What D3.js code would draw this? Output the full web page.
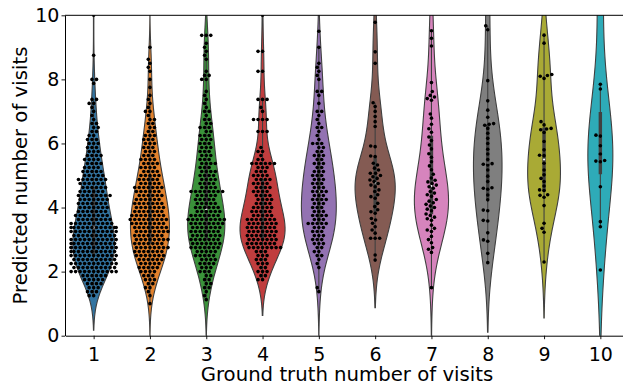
<!DOCTYPE html>
<html>
<head>
<meta charset="utf-8">
<script src="https://cdn.jsdelivr.net/npm/d3@7"></script>
<style>
  body { margin: 0; background: #fff; }
  svg { display: block; font-family: "DejaVu Sans", sans-serif; }
</style>
</head>
<body>
<svg id="chart" width="623" height="383"></svg>
<script>
const categories = [1, 2, 3, 4, 5, 6, 7, 8, 9, 10];
const colors = ['#3274a1', '#e1812c', '#3a923a', '#c03d3e', '#9372b2',
                '#845b53', '#d684bd', '#7f7f7f', '#a9aa35', '#2eabb8'];
const yTicks = [0, 2, 4, 6, 8, 10];

// groups 1-5 are dense: predictions come in steps of 1/8,
// so they are kept as counts per step, starting at the first value
const step = 0.125;
const from1 = 1.25;
const counts1 = [2, 3, 3, 4, 5, 6,
  11, 10, 11, 10, 11, 11, 12, 11,
  11, 10, 11, 12, 10, 8, 8, 7,
  7, 7, 7, 8, 6, 6, 6, 7,
  5, 5, 4, 4, 4, 4, 3, 3,
  3, 3, 2, 2, 2, 2, 1, 1,
  1, 1, 2, 2, 0, 0, 0, 1,
  2, 0, 0, 0, 0, 0, 1, 0,
  0, 0, 0, 0, 0, 0, 0, 0,
  1];
const from2 = 1.0;
const counts2 = [1, 0, 1, 1, 2, 2, 3, 3,
  4, 5, 5, 6, 7, 7, 8, 7,
  8, 7, 8, 8, 8, 9, 8, 7,
  7, 7, 6, 6, 6, 7, 5, 5,
  5, 4, 4, 4, 4, 3, 3, 3,
  3, 3, 3, 2, 2, 2, 2, 1,
  2, 1, 1, 1, 1, 0, 1, 0,
  1, 0, 1, 1, 1, 1, 0, 0,
  1];
const from3 = 1.125;
const counts3 = [1, 1, 1, 2, 2, 2, 2,
  3, 3, 4, 4, 5, 5, 7, 7,
  7, 7, 7, 7, 8, 9, 7, 6,
  6, 5, 5, 5, 8, 4, 4, 4,
  4, 4, 3, 4, 3, 3, 3, 3,
  3, 3, 3, 2, 3, 2, 2, 1,
  2, 1, 1, 1, 1, 1, 0, 0,
  2, 2, 1, 0, 0, 1, 1, 1,
  1, 1, 0, 3];
const from4 = 1.75;
const counts4 = [2, 2,
  3, 2, 3, 3, 3, 3, 8, 7,
  7, 7, 7, 7, 7, 7, 5, 5,
  5, 4, 4, 4, 4, 4, 4, 4,
  4, 3, 3, 6, 2, 1, 2, 1,
  0, 0, 0, 3, 0, 0, 4, 0,
  1, 1, 0, 3, 0, 0, 0, 0,
  0, 0, 2, 0, 0, 0, 0, 2,
  0, 0, 0, 0, 0, 0, 0, 0,
  1];
const from5 = 1.375;
const counts5 = [1, 1, 0, 0, 0,
  0, 1, 1, 1, 2, 2, 2, 3,
  3, 3, 3, 3, 5, 3, 4, 3,
  3, 3, 4, 3, 4, 3, 3, 3,
  3, 3, 2, 3, 2, 3, 2, 2,
  3, 1, 1, 1, 2, 1, 1, 1,
  2, 0, 1, 0, 1, 2, 0, 0,
  1, 1, 1, 1, 1, 0, 0, 0,
  1, 0, 0, 0, 1];

// groups 6-10 are sparse: single predictions
const visits6 = [9.78, 8.86, 8.5, 7.27, 7.15, 7.0, 6.84, 6.68, 6.53, 5.92, 5.9, 5.61, 5.59,
  5.38, 5.33, 5.23, 5.17, 5.07, 5.07, 5.0, 4.96, 4.91, 4.86, 4.81, 4.75, 4.7, 4.65,
  4.55, 4.5, 4.4, 4.34, 4.29, 4.13, 4.03, 3.93, 3.87, 3.82, 3.66, 3.61,
  3.51, 3.4, 3.3, 3.2, 3.04, 3.04, 3.04, 2.52, 2.36];
const visits7 = [9.52, 9.28, 9.04, 7.9, 7.62, 7.5, 7.45, 7.4, 7.35, 6.92, 6.79,
  6.6, 6.46, 6.35, 6.2, 6.09, 5.95, 5.83, 5.68, 5.57, 5.43, 5.3, 5.18, 5.04,
  4.92, 4.85, 4.8, 4.75, 4.7, 4.65, 4.6, 4.5, 4.45, 4.4, 4.35,
  4.25, 4.2, 4.15, 4.1, 4.05, 4.0, 3.95, 3.9, 3.8, 3.75, 3.7, 3.65, 3.6,
  3.45, 3.35, 3.3, 3.25, 3.1, 3.0, 2.9, 2.75, 2.7, 2.6, 1.5];
const visits8 = [9.67, 9.55, 7.96, 7.33, 7.04, 6.82, 6.62, 6.6, 6.57, 6.47, 6.32, 6.16,
  6.0, 5.82, 5.67, 5.5, 5.37, 5.35, 5.33, 5.17, 4.98, 4.81, 4.62, 4.6, 4.57, 4.39,
  4.24, 3.92, 3.9, 3.6, 3.58, 3.21, 2.99, 2.95, 2.57, 2.28];
const visits9 = [9.38, 9.13, 8.15, 8.12, 8.1, 8.03, 6.68, 6.58, 6.47, 6.45, 6.43, 6.34,
  6.06, 5.8, 5.63, 5.62, 5.38, 5.17, 5.02, 4.91, 4.81, 4.67, 4.55, 4.53, 4.4, 4.38,
  4.32, 4.06, 3.51, 3.35, 3.23, 2.3];
const visits10 = [7.85, 7.7, 6.26, 6.23, 5.93, 5.67, 5.47, 5.45, 5.43, 4.65, 3.56, 3.4, 2.05];

// predictions above 10 are cut off by the axis, guessed from the violin tails and boxes
const above1 = [12, 14];
const above = [above1, [], [], [], [12], [], [11], [11, 12.5], [], [10.5, 11.5]];

function expand(from, counts) {
  const out = [];
  counts.forEach((c, i) => {
    for (let k = 0; k < c; k++) out.push(from + i * step);
  });
  return out;
}

const groups = [
  expand(from1, counts1), expand(from2, counts2), expand(from3, counts3),
  expand(from4, counts4), expand(from5, counts5),
  visits6, visits7, visits8, visits9, visits10
].map((vals, i) => ({
  cat: categories[i],
  color: colors[i],
  values: vals.concat(above[i]).sort(d3.ascending)
}));

const width = 623, height = 383;
const plotLeft = 65, plotTop = 15.3, plotBottom = 335.7;
const gray = '#404040';
const violinWidth = 0.8;
const dotR = 1.8;
const dotGap = 4.3;   // swarm spacing between dot centres

const svg = d3.select('#chart');
const x = d3.scaleLinear().domain([0.5, 10.5]).range([65.5, 628.5]);
const y = d3.scaleLinear().domain([0, 10]).range([plotBottom, plotTop]);

svg.append('defs').append('clipPath').attr('id', 'plot')
  .append('rect').attr('x', plotLeft).attr('y', plotTop)
  .attr('width', width - plotLeft).attr('height', plotBottom - plotTop);

// gaussian kde, scott bandwidth, cut = 2 (as seaborn)
function kde(values) {
  const n = values.length;
  const bw = Math.pow(n, -0.2) * d3.deviation(values);
  const lo = d3.min(values) - 2 * bw, hi = d3.max(values) + 2 * bw;
  const k = 1 / (n * bw * Math.sqrt(2 * Math.PI));
  return d3.range(100).map(i => {
    const v = lo + (hi - lo) * i / 99;
    return { v: v, den: k * d3.sum(values, u => Math.exp(-0.5 * ((v - u) / bw) ** 2)) };
  });
}

groups.forEach(g => { g.kde = kde(g.values); });
const maxDen = d3.max(groups, g => d3.max(g.kde, d => d.den));

const plot = svg.append('g').attr('clip-path', 'url(#plot)');

groups.forEach(g => {
  const half = d => (violinWidth / 2) * d.den / maxDen;
  const area = d3.area()
    .y(d => y(d.v))
    .x0(d => x(g.cat - half(d)))
    .x1(d => x(g.cat + half(d)));
  plot.append('path')
    .datum(g.kde)
    .attr('d', area)
    .attr('fill', g.color)
    .attr('stroke', gray)
    .attr('stroke-width', 1.1);

  // inner box
  const v = g.values;
  const q1 = d3.quantile(v, 0.25), q2 = d3.quantile(v, 0.5), q3 = d3.quantile(v, 0.75);
  const lim = 1.5 * (q3 - q1);
  const h1 = d3.min(v.filter(d => d >= q1 - lim));
  const h2 = d3.max(v.filter(d => d <= q3 + lim));
  const cx = x(g.cat);
  plot.append('line')
    .attr('x1', cx).attr('x2', cx).attr('y1', y(h1)).attr('y2', y(h2))
    .attr('stroke', gray).attr('stroke-width', 1.1);
  plot.append('line')
    .attr('x1', cx).attr('x2', cx).attr('y1', y(q1)).attr('y2', y(q3))
    .attr('stroke', gray).attr('stroke-width', 3.4);
  plot.append('circle')
    .attr('cx', cx).attr('cy', y(q2)).attr('r', 1.4)
    .attr('fill', 'white').attr('stroke', gray).attr('stroke-width', 0.8);
});

// beeswarm in pixel space, lowest value first, gutters at the violin width
function swarm(ys, d, gutter) {
  const placed = [];
  return ys.map(py => {
    const near = placed.filter(p => Math.abs(p.y - py) < d);
    const cands = [0];
    near.forEach(p => {
      const dx = Math.sqrt(Math.max(d * d - (p.y - py) ** 2, 0)) * 1.05;
      cands.push(p.x - dx, p.x + dx);
    });
    cands.sort((a, b) => Math.abs(a) - Math.abs(b));
    let px = cands[cands.length - 1];
    for (const c of cands) {
      if (near.every(p => (p.x - c) ** 2 + (p.y - py) ** 2 >= d * d * 0.999)) { px = c; break; }
    }
    placed.push({ x: px, y: py });
    return Math.max(-gutter, Math.min(gutter, px));
  });
}

const gutter = x(1 + violinWidth / 2) - x(1);
groups.forEach(g => {
  const ys = g.values.map(v => y(v));
  const xs = swarm(ys, dotGap, gutter);
  plot.append('g').selectAll('circle')
    .data(ys)
    .enter()
    .append('circle')
    .attr('cx', (d, i) => x(g.cat) + xs[i])
    .attr('cy', d => d)
    .attr('r', dotR)
    .attr('fill', 'black');
});

// axes
const yAxis = svg.append('g')
  .attr('transform', 'translate(' + plotLeft + ',0)')
  .call(d3.axisLeft(y).tickValues(yTicks).tickSize(3.5).tickSizeOuter(0).tickPadding(2.2));
const xAxis = svg.append('g')
  .attr('transform', 'translate(0,' + plotBottom + ')')
  .call(d3.axisBottom(x).tickValues(categories).tickSize(3.5).tickSizeOuter(0).tickPadding(7.9));
[xAxis, yAxis].forEach(a => {
  a.selectAll('text').attr('font-size', 19).attr('fill', 'black')
    .attr('font-family', '"DejaVu Sans", sans-serif');
  a.selectAll('line').attr('stroke', 'black').attr('stroke-width', 0.9);
  a.select('.domain').attr('stroke', 'black').attr('stroke-width', 1);
});
svg.append('line')
  .attr('x1', plotLeft).attr('x2', width).attr('y1', plotTop).attr('y2', plotTop)
  .attr('stroke', 'black').attr('stroke-width', 1);

svg.append('text')
  .attr('transform', 'translate(27.3,' + (plotTop + plotBottom) / 2 + ') rotate(-90)')
  .attr('text-anchor', 'middle')
  .attr('font-size', 19.7)
  .text('Predicted number of visits');
svg.append('text')
  .attr('x', 347).attr('y', 381)
  .attr('text-anchor', 'middle')
  .attr('font-size', 19.7)
  .text('Ground truth number of visits');
</script>
</body>
</html>
